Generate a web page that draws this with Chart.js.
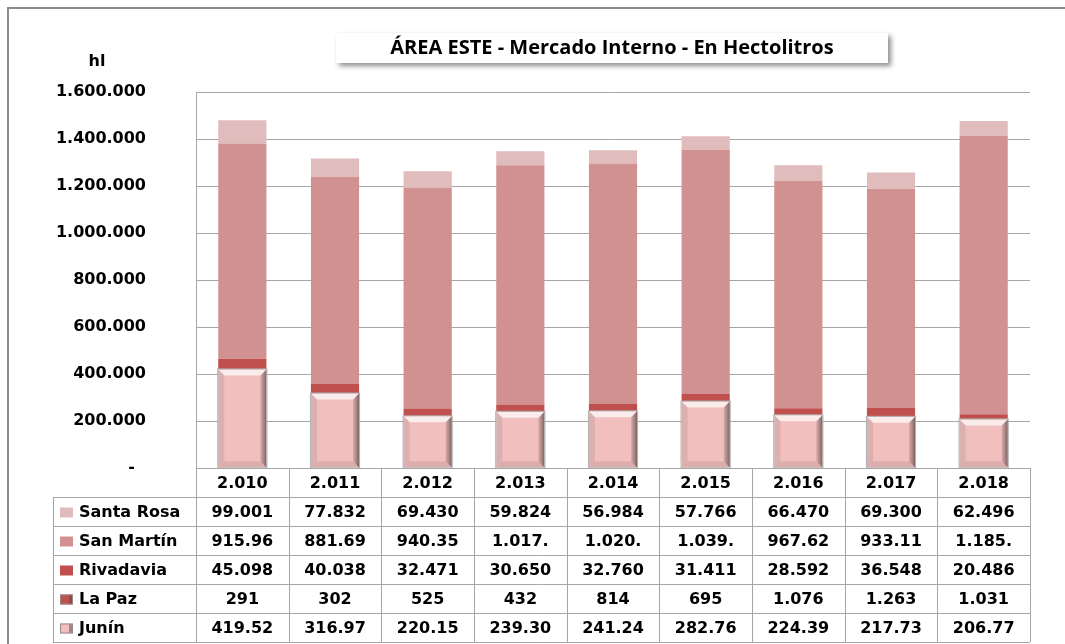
<!DOCTYPE html>
<html lang="es">
<head>
    <meta charset="UTF-8">
    <title>Área Este - Mercado Interno</title>
    <script src="https://cdn.jsdelivr.net/npm/chart.js"></script>
    <style>
        body { margin: 0; background: #fff; }
        canvas { display: block; }
    </style>
</head>
<body>
    <canvas id="areaChart" width="1065" height="644"></canvas>

    <script>
        // Datos (hl)
        const years = ['2.010', '2.011', '2.012', '2.013', '2.014', '2.015', '2.016', '2.017', '2.018'];
        const junin = [419520, 316970, 220150, 239300, 241240, 282760, 224390, 217730, 206770];
        const laPaz = [291, 302, 525, 432, 814, 695, 1076, 1263, 1031];
        const rivadavia = [45098, 40038, 32471, 30650, 32760, 31411, 28592, 36548, 20486];
        const sanMartin = [915960, 881690, 940350, 1017700, 1020500, 1039500, 967620, 933110, 1185500];
        const santaRosa = [99001, 77832, 69430, 59824, 56984, 57766, 66470, 69300, 62496];
        const yTicks = [0, 200000, 400000, 600000, 800000, 1000000, 1200000, 1400000, 1600000];

        const FONT = '"DejaVu Sans", Verdana, sans-serif';
        const GRID = '#A6A6A6';

        // miles con punto, como en la planilla
        function fmt(n) {
            return String(n).replace(/\B(?=(\d{3})+(?!\d))/g, '.');
        }
        // la celda de la tabla corta el número a 6 caracteres
        function cell(n) {
            return fmt(n).slice(0, 6);
        }

        const series = [
            { label: 'Junín', data: junin, color: '#F2BFBF', bevel: true },
            { label: 'La Paz', data: laPaz, color: '#C0504D', bevel: true },
            { label: 'Rivadavia', data: rivadavia, color: '#C0504D' },
            { label: 'San Martín', data: sanMartin, color: '#D19191' },
            { label: 'Santa Rosa', data: santaRosa, color: '#E1BCBC' }
        ];

        // Marco, título, "hl", bisel de Junín y tabla de datos
        const sheetPlugin = {
            id: 'sheet',
            beforeDraw(chart) {
                const c = chart.ctx;
                c.save();
                c.strokeStyle = '#8C8C8C';
                c.lineWidth = 2;
                c.beginPath();
                c.moveTo(8, chart.height);
                c.lineTo(8, 8);
                c.lineTo(chart.width, 8);
                c.stroke();
                c.restore();
            },
            afterDatasetsDraw(chart) {
                const c = chart.ctx;
                const meta = chart.getDatasetMeta(0);
                meta.data.forEach(bar => {
                    const p = bar.getProps(['x', 'y', 'base', 'width'], true);
                    const l = p.x - p.width / 2, r = p.x + p.width / 2;
                    const t = p.y, b = p.base, e = 6;
                    c.save();
                    // arriba
                    c.fillStyle = 'rgba(255,255,255,0.7)';
                    c.beginPath();
                    c.moveTo(l, t); c.lineTo(r, t); c.lineTo(r - e, t + e); c.lineTo(l + e, t + e);
                    c.fill();
                    // derecha
                    const g = c.createLinearGradient(r - e, 0, r, 0);
                    g.addColorStop(0, 'rgba(140,110,110,0.3)');
                    g.addColorStop(1, 'rgba(70,55,55,0.7)');
                    c.fillStyle = g;
                    c.beginPath();
                    c.moveTo(r, t); c.lineTo(r, b); c.lineTo(r - e, b - e); c.lineTo(r - e, t + e);
                    c.fill();
                    // izquierda
                    c.fillStyle = 'rgba(150,130,130,0.25)';
                    c.beginPath();
                    c.moveTo(l, t); c.lineTo(l + e, t + e); c.lineTo(l + e, b - e); c.lineTo(l, b);
                    c.fill();
                    // abajo
                    c.fillStyle = 'rgba(120,95,95,0.18)';
                    c.beginPath();
                    c.moveTo(l, b); c.lineTo(l + e, b - e); c.lineTo(r - e, b - e); c.lineTo(r, b);
                    c.fill();
                    c.strokeStyle = '#AFAFAF';
                    c.lineWidth = 1;
                    c.strokeRect(l - 0.5, t - 0.5, p.width + 1, b - t + 1);
                    c.restore();
                });
            },
            afterDraw(chart) {
                const c = chart.ctx;
                const area = chart.chartArea;
                const xs = chart.scales.x;

                // título en caja con sombra
                c.save();
                c.shadowColor = 'rgba(0,0,0,0.45)';
                c.shadowBlur = 5;
                c.shadowOffsetX = 3;
                c.shadowOffsetY = 3;
                c.fillStyle = '#fff';
                c.fillRect(336, 33, 552, 30);
                c.restore();
                c.save();
                c.fillStyle = '#000';
                c.font = 'bold 20px "Open Sans", sans-serif';
                c.textAlign = 'center';
                c.textBaseline = 'middle';
                c.fillText('ÁREA ESTE - Mercado Interno - En Hectolitros', 612, 48);

                // unidad
                c.font = 'bold 16px ' + FONT;
                c.fillText('hl', 97, 62);

                // tabla de datos
                const n = years.length;
                const colW = xs.width / n;
                const rowH = 29;
                const top = area.bottom;
                const legendLeft = 53;
                const rows = series.slice().reverse();
                const bottom = top + rowH * (rows.length + 1);

                c.strokeStyle = GRID;
                c.lineWidth = 1;
                c.beginPath();
                // horizontales
                for (let k = 0; k <= rows.length + 1; k++) {
                    const y = Math.round(top + k * rowH) + 0.5;
                    c.moveTo(k === 0 ? area.left : legendLeft, y);
                    c.lineTo(area.right, y);
                }
                // verticales
                for (let i = 0; i <= n; i++) {
                    const x = Math.round(area.left + i * colW) + 0.5;
                    c.moveTo(x, top);
                    c.lineTo(x, bottom);
                }
                c.moveTo(legendLeft + 0.5, top + rowH);
                c.lineTo(legendLeft + 0.5, bottom);
                c.stroke();

                c.fillStyle = '#000';
                c.textAlign = 'center';
                years.forEach((yr, i) => {
                    c.fillText(yr, xs.getPixelForValue(i), top + rowH / 2 + 1);
                });
                rows.forEach((s, k) => {
                    const cy = top + (k + 1) * rowH + rowH / 2 + 1;
                    // clave de color
                    c.fillStyle = s.color;
                    c.fillRect(60, cy - 5, 13, 10);
                    if (s.bevel) {
                        c.strokeStyle = '#9A8A8A';
                        c.strokeRect(60.5, cy - 4.5, 12, 9);
                        c.fillStyle = 'rgba(90,70,70,0.5)';
                        c.fillRect(69, cy - 4, 3, 8);
                    }
                    c.fillStyle = '#000';
                    c.textAlign = 'left';
                    c.fillText(s.label, 79, cy);
                    c.textAlign = 'center';
                    s.data.forEach((v, i) => {
                        c.fillText(cell(v), xs.getPixelForValue(i), cy);
                    });
                });
                c.restore();
            }
        };

        const ctx = document.getElementById('areaChart').getContext('2d');
        new Chart(ctx, {
            type: 'bar',
            data: {
                labels: years,
                datasets: series.map(s => ({
                    label: s.label,
                    data: s.data,
                    backgroundColor: s.color,
                    borderWidth: 0,
                    barPercentage: 0.52,
                    categoryPercentage: 1.0
                }))
            },
            options: {
                responsive: false,
                animation: false,
                layout: { padding: { top: 92, right: 35, left: 0, bottom: 0 } },
                plugins: {
                    legend: { display: false },
                    title: { display: false },
                    tooltip: { enabled: false }
                },
                scales: {
                    x: {
                        stacked: true,
                        ticks: { display: false },
                        grid: { display: false },
                        border: { color: GRID },
                        afterFit(s) { s.height = 176; }
                    },
                    y: {
                        stacked: true,
                        min: yTicks[0],
                        max: yTicks[yTicks.length - 1],
                        afterBuildTicks(s) { s.ticks = yTicks.map(v => ({ value: v })); },
                        ticks: {
                            padding: 50,
                            color: '#000',
                            font: { family: FONT, size: 16, weight: 'bold' },
                            callback: v => v === 0 ? '-  ' : fmt(v)
                        },
                        grid: { color: GRID, drawTicks: false },
                        border: { color: GRID },
                        afterFit(s) { s.width = 196; }
                    }
                }
            },
            plugins: [sheetPlugin]
        });
    </script>
</body>
</html>
